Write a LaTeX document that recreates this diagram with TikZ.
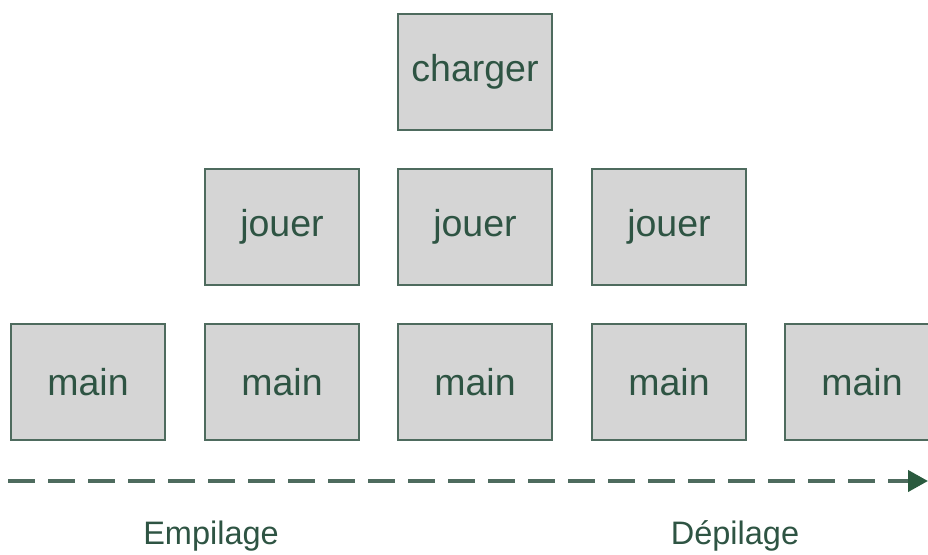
\documentclass[tikz,border=0pt]{standalone}
\usepackage{fontspec}
\setmainfont{Liberation Sans}
\usetikzlibrary{arrows.meta}
\definecolor{txtgreen}{HTML}{2E5443}
\definecolor{boxfill}{HTML}{D5D5D5}
\definecolor{boxline}{HTML}{4E6B5E}
\definecolor{arrgreen}{HTML}{2A5A3E}
\begin{document}
\begin{tikzpicture}[x=1pt,y=-1pt,
  framebox/.style={draw=boxline, line width=1.6pt, fill=boxfill, minimum width=154pt, minimum height=116pt, inner sep=0pt, text=txtgreen, font=\fontsize{37.5}{40}\selectfont, anchor=center},
  lbl/.style={text=txtgreen, font=\fontsize{32.5}{36}\selectfont, inner sep=0pt}]
\useasboundingbox (0,0) rectangle (928,554);
\clip (0,0) rectangle (928,554);
\node[framebox] (c) at (475,72) {charger};
\node[framebox] (j1) at (282,227) {jouer};
\node[framebox] (j2) at (475,227) {jouer};
\node[framebox] (j3) at (669,227) {jouer};
\node[framebox] (m1) at (88,382) {main};
\node[framebox] (m2) at (282,382) {main};
\node[framebox] (m3) at (475,382) {main};
\node[framebox] (m4) at (669,382) {main};
\node[framebox] (m5) at (862,382) {main};
\coordinate (a0) at (8,481);
\coordinate (a1) at (928,481);
\draw[draw=boxline, line width=4pt, dash pattern=on 27pt off 13pt, -{Triangle[length=20pt,width=21pt,fill=arrgreen,color=arrgreen]}] (a0) -- (a1);
\node[lbl] (e) at (211,536) {Empilage};
\node[lbl] (d) at (735,536) {Dépilage};
\end{tikzpicture}
\end{document}
